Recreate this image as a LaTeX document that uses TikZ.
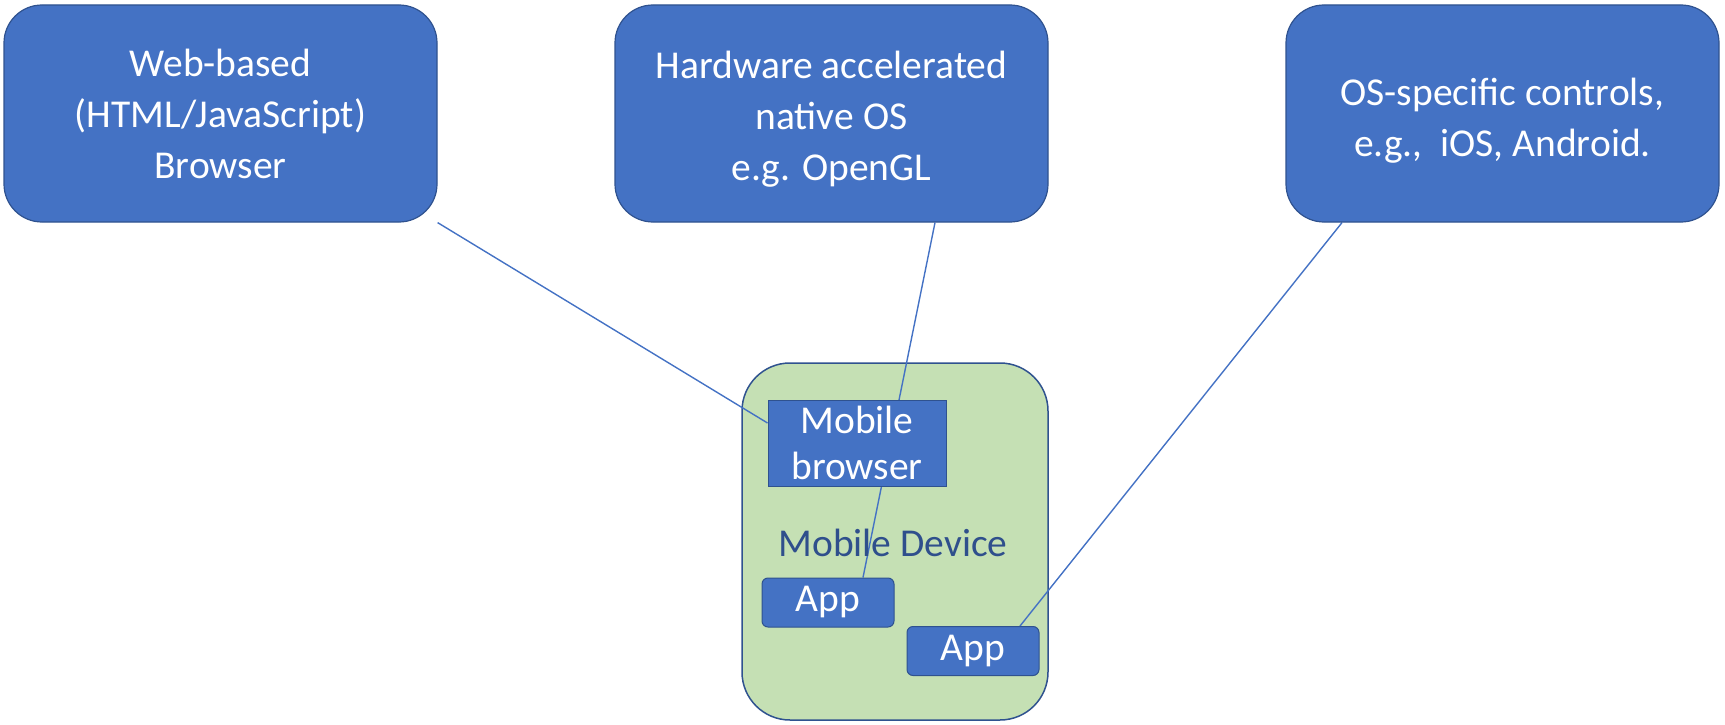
\documentclass[tikz,border=0pt]{standalone}
\usepackage{fontspec}
\setmainfont{Carlito}
\usetikzlibrary{calc}
\definecolor{boxblue}{HTML}{4472C4}
\definecolor{edgeblue}{HTML}{2F528F}
\definecolor{devgreen}{HTML}{C5E0B4}
\definecolor{labelblue}{HTML}{2F4F8C}
\pgfdeclarelayer{bg}
\pgfdeclarelayer{ln}
\pgfsetlayers{bg,ln,main}
\tikzset{
  topbox/.style={draw=edgeblue, line width=1.2pt, fill=boxblue, text=white, rounded corners=38pt,
    minimum width=433pt, minimum height=217pt, align=center, inner sep=0pt,
    font=\fontsize{39.5pt}{51pt}\selectfont},
  devbox/.style={draw=edgeblue, line width=1.5pt, fill=devgreen, rounded corners=48pt,
    minimum width=306pt, minimum height=357pt, inner sep=0pt},
  mbbox/.style={draw=edgeblue, line width=1pt, fill=boxblue, text=white,
    minimum width=178pt, minimum height=86pt, align=center, inner sep=0pt,
    font=\fontsize{39.5pt}{46pt}\selectfont},
  appbox/.style={draw=edgeblue, line width=1pt, fill=boxblue, text=white, rounded corners=6pt,
    minimum width=132pt, minimum height=49pt, inner sep=0pt,
    font=\fontsize{39.5pt}{46pt}\selectfont},
  devlabel/.style={text=labelblue, inner sep=0pt, font=\fontsize{39.5pt}{46pt}\selectfont},
  link/.style={draw=boxblue, line width=1.4pt}
}
\begin{document}
\begin{tikzpicture}[x=1pt,y=-1pt]
\useasboundingbox (0,0) rectangle (1725,725);
\begin{pgfonlayer}{bg}
  \node[devbox] (dev) at (895,541.5) {};
\end{pgfonlayer}
\node[devlabel] (devlbl) at (893,543) {Mobile Device};
\node[topbox] (b1) at (220.5,113.5) {\raisebox{-4pt}[\height][\depth]{\begin{tabular}{@{}c@{}}Web-based\\(HTML/JavaScript)\\Browser\end{tabular}}};
\node[topbox] (b2) at (831.5,113.5) {\raisebox{-6pt}[\height][\depth]{\begin{tabular}{@{}c@{}}Hardware accelerated\\native OS\\e.g. OpenGL\end{tabular}}};
\node[topbox] (b3) at (1502.5,113.5) {\raisebox{-7pt}[\height][\depth]{\begin{tabular}{@{}c@{}}OS-specific controls,\\e.g.,~ iOS, Android.\end{tabular}}};
\node[mbbox] (mb) at (857,443) {Mobile\\browser};
\node[appbox] (a1) at (828,602.5) {App};
\node[appbox] (a2) at (973,651) {App};
\begin{pgfonlayer}{ln}
  \draw[link] (b1.south east) -- ($(mb.north west)!0.27!(mb.south west)$);
  \draw[link] ($(b2.south)+(103.5,0)$) -- ($(a1.north)+(35,0)$);
  \draw[link] ($(b3.south)+(-160.5,0)$) -- ($(a2.north)+(47,0)$);
\end{pgfonlayer}
\end{tikzpicture}
\end{document}
